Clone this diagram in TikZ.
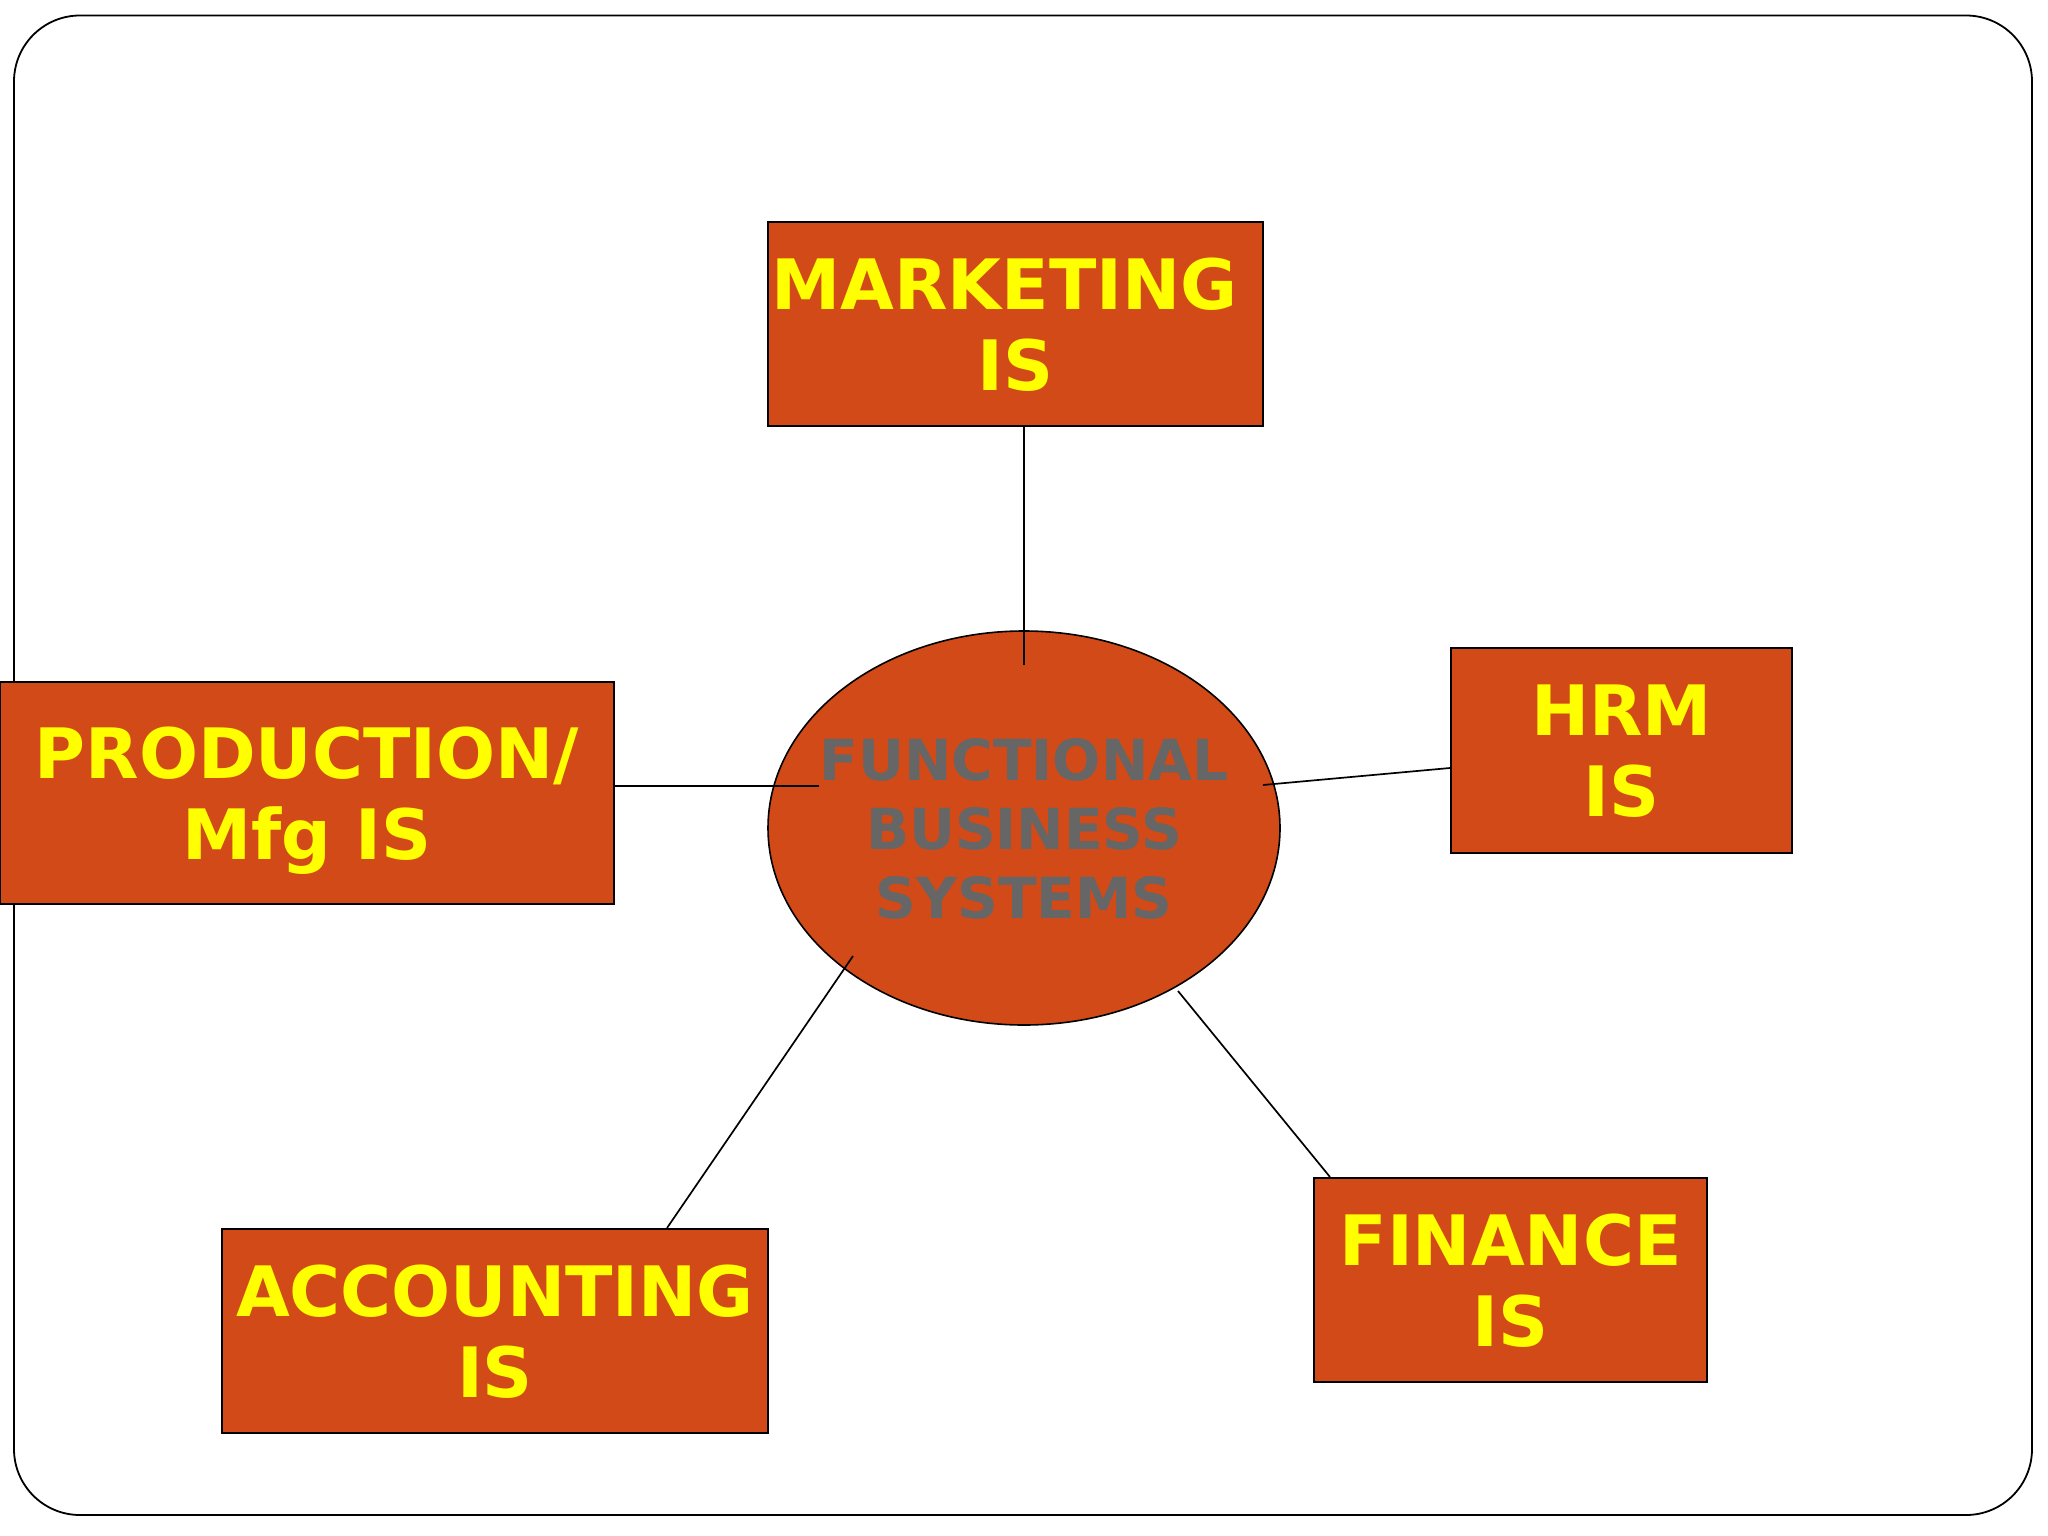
\documentclass[tikz,border=0pt]{standalone}
\usepackage{fontspec}
\setmainfont{DejaVu Sans}
\usetikzlibrary{shapes.geometric,calc}
\definecolor{boxfill}{RGB}{209,74,23}
\definecolor{fbsgray}{RGB}{102,102,102}
\definecolor{txtyellow}{RGB}{255,255,0}
\tikzset{
  isbox/.style={draw=black, line width=2pt, fill=boxfill, rectangle, inner sep=0pt,
    align=center, text=txtyellow, text depth=-12pt, font=\fontsize{69.5}{81}\selectfont\bfseries},
  hub/.style={ellipse, draw=black, line width=1.6pt, fill=boxfill, inner xsep=-40pt, inner ysep=0pt,
    align=center, text=fbsgray, text depth=-8pt, font=\fontsize{56.6}{69}\selectfont\bfseries},
  conn/.style={draw=black, line width=1.7pt},
  frame/.style={draw=black, line width=1.8pt, rounded corners=66pt}
}
\begin{document}
\begin{tikzpicture}[x=1pt,y=-1pt]
\useasboundingbox (0,0) rectangle (2048,1536);
\fill[white] (0,0) rectangle (2048,1536);
\draw[frame] (14,15.5) rectangle (2032,1515);

\node[hub, minimum width=512, minimum height=394] (fbs) at (1024,828) {FUNCTIONAL\\BUSINESS\\SYSTEMS};

\node[isbox, minimum width=495, minimum height=204] (mkt) at (1015.5,324) {MARKETING\hspace*{22pt}\\IS};
\node[isbox, minimum width=614, minimum height=222, text depth=-12pt] (prod) at (307,793) {PRODUCTION/\\Mfg IS};
\node[isbox, minimum width=341, minimum height=205] (hrm) at (1621.5,750.5) {HRM\\IS};
\node[isbox, minimum width=393, minimum height=204] (fin) at (1510.5,1280) {FINANCE\\IS};
\node[isbox, minimum width=546, minimum height=204] (acc) at (495,1331) {ACCOUNTING\\IS};

\coordinate (mktend) at (1024,665);
\coordinate (prodend) at (819,786);
\coordinate (hrmend) at (1263,785);
\coordinate (finend) at (1178,991);
\coordinate (accend) at (853,956);

\draw[conn] (mkt.south -| mktend) -- (mktend);
\draw[conn] (prod.east |- prodend) -- (prodend);
\draw[conn] ($(hrm.west)+(0,17.5)$) -- (hrmend);
\draw[conn] ($(fin.north west)+(17,0)$) -- (finend);
\draw[conn] ($(acc.north east)+(-102,0)$) -- (accend);
\end{tikzpicture}
\end{document}
